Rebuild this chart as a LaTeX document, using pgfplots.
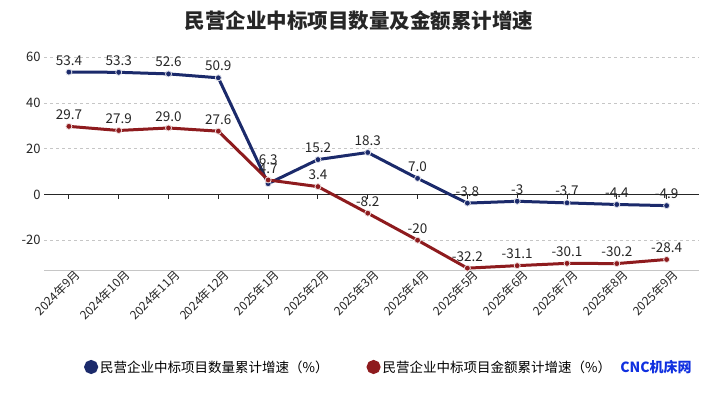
\documentclass[border=0pt]{standalone}
\usepackage{fontspec}
\setmainfont{Noto Sans CJK SC}
\usepackage{pgfplots}
\usepackage{pgfplotstable}
\pgfplotsset{compat=1.18}
\definecolor{cblue}{HTML}{1B2A6B}
\definecolor{cred}{HTML}{8E1B1E}
\definecolor{wm}{HTML}{1030E0}
\pgfplotstableread{
x y lab dy
0 53.4 53.4 0
1 53.3 53.3 0
2 52.6 52.6 0
3 50.9 50.9 0
4 4.7 4.7 3
5 15.2 15.2 0
6 18.3 18.3 0
7 7.0 7.0 0
8 -3.8 -3.8 0
9 -3 -3 0
10 -3.7 -3.7 0
11 -4.4 -4.4 0
12 -4.9 -4.9 0
}\bluedata
\pgfplotstableread{
x y lab dy
0 29.7 29.7 0
1 27.9 27.9 0
2 29.0 29.0 0
3 27.6 27.6 0
4 6.3 6.3 9
5 3.4 3.4 0
6 -8.2 -8.2 0
7 -20 -20 0
8 -32.2 -32.2 0
9 -31.1 -31.1 0
10 -30.1 -30.1 0
11 -30.2 -30.2 0
12 -28.4 -28.4 0
}\reddata
\begin{document}
\begin{tikzpicture}[x=1pt,y=1pt]
\useasboundingbox (0,0) rectangle (718,394);
\fill[white] (0,0) rectangle (718,394);
\node[font=\bfseries\fontsize{20.5}{24}\selectfont, text=black!85] at (359,373) {民营企业中标项目数量及金额累计增速};
\begin{axis}[at={(44pt,124pt)}, anchor=south west, scale only axis,
  width=655pt, height=224.5pt,
  xmin=-0.5, xmax=12.65, ymin=-33, ymax=65,
  axis line style={draw=none},
  major tick length=0pt,
  ytick={-20,0,20,40,60},
  ymajorgrids, y grid style={gray!45, dashed},
  xtick={0,...,12},
  xticklabels={2024年9月,2024年10月,2024年11月,2024年12月,2025年1月,2025年2月,2025年3月,2025年4月,2025年5月,2025年6月,2025年7月,2025年8月,2025年9月},
  xticklabel style={rotate=45, anchor=east, xshift=8pt, yshift=-8pt, font=\fontsize{12}{14}\selectfont, text=black!85},
  yticklabel style={font=\fontsize{13}{15}\selectfont, text=black!85},
  /pgf/number format/assume math mode=true,
  clip=false,
  legend style={at={(0.465,-0.432)}, anchor=center, draw=none, fill=none, legend columns=2,
    font=\fontsize{13.5}{15}\selectfont, /tikz/every even column/.append style={column sep=36pt}},
  legend image code/.code={\fill[#1] (0pt,0pt) circle (5.5pt);},
  nodes near coords, point meta=explicit symbolic,
  visualization depends on={\thisrow{dy} \as \dy},
  every node near coord/.append style={font=\fontsize{13.5}{15}\selectfont, text=black!85, anchor=south, yshift=3pt+\dy pt},
]
\draw[gray!45] (axis cs:-0.5,-33) -- (axis cs:12.65,-33);
\draw[black!85, line width=1pt] (axis cs:-0.5,0) -- (axis cs:12.65,0);
\pgfplotsinvokeforeach{0,...,12}{\draw[black!85, line width=1pt] (axis cs:#1,0) -- ([yshift=-5pt]axis cs:#1,0);}
\addplot[cblue, line width=3pt, mark=*, mark size=3pt, mark options={draw=white!85!cblue, line width=0.8pt, fill=cblue}] table[x=x, y=y, meta=lab] {\bluedata};
\addlegendentry{民营企业中标项目数量累计增速（\%）}
\addplot[cred, line width=3pt, mark=*, mark size=3pt, mark options={draw=white!85!cred, line width=0.8pt, fill=cred}] table[x=x, y=y, meta=lab] {\reddata};
\addlegendentry{民营企业中标项目金额累计增速（\%）}
\end{axis}
\node[font=\bfseries\fontsize{14}{16}\selectfont, text=wm] at (656,27) {CNC机床网};
\end{tikzpicture}
\end{document}
